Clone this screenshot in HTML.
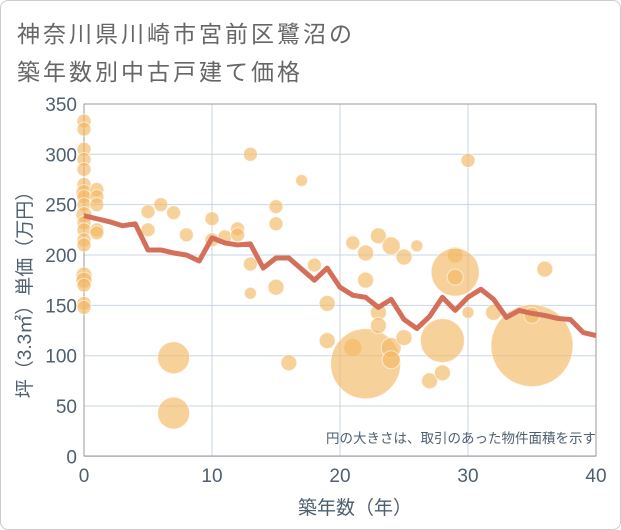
<!DOCTYPE html>
<html><head><meta charset="utf-8"><style>
body{margin:0;background:#fff;font-family:"Liberation Sans","Noto Sans CJK JP",sans-serif}
#wrap{position:relative;width:619px;height:528px;border:1px solid #ccc;border-radius:8px;overflow:hidden}
.t{position:absolute;left:16px;font-size:23px;color:#666;letter-spacing:3px}
</style></head><body>
<div id="wrap">
<div class="t" style="top:14px">神奈川県川崎市宮前区鷺沼の</div>
<div class="t" style="top:52px">築年数別中古戸建て価格</div>
<svg id="svg" width="621" height="530" style="position:absolute;left:-1px;top:-1px"></svg>
</div>
<script>
const years=[0,1,2,3,4,5,6,7,8,9,10,11,12,13,14,15,16,17,18,19,20,21,22,23,24,25,26,27,28,29,30,31,32,33,34,35,36,37,38,39,40];
const avgPrice=[239,236,233,229,231,205,205,202,200,194,217,212,210,211,187,197,197,186,175,187,168,160,158,148,156,136,127,139,158,145,158,166,156,138,145,142,140,137,136,123,120];
const bubbleX=[0,0,0,0,0,0,0,0,0,0,0,0,0,0,0,0,0,0,0,1,1,1,1,1,5,5,6,7,7,7,8,10,10,11,12,12,13,13,13,15,15,15,16,17,18,19,19,21,21,22,22,22,23,23,23,24,24,24,25,25,26,27,28,28,29,29,29,30,30,32,35,35,36];
const bubbleY=[333,325,305,295,285,270,262,258,250,240,232,225,215,210,180,175,170,152,148,265,258,250,225,222,243,225,250,242,98,43,220,236,215,218,226,220,300,191,162,248,231,168,93,274,190,152,115,212,108,202,175,92,219,143,130,209,108,96,198,118,209,75,83,115,200,183,178,294,143,143,110,140,186];
const bubbleR=[7,7,7,7,7,7,8,7,7,8,7,7,7,7,8,8,7,7,7,7,7,7,7,7,7,7,7,7,16,16,7,7,7,7,7,7,7,7,6,7,7,8,8,6,7,8,8,7,9,8,8,35,8,8,8,9,10,9,8,8,6,8,8,22,8,24,8,7,6,8,41,8,8];
const yTicks=[0,50,100,150,200,250,300,350];
const xTicks=[0,10,20,30,40];
const NS="http://www.w3.org/2000/svg";
const svg=document.getElementById('svg');
const X=v=>84+v*12.8, Y=v=>456.4-v*1.007;
const TC='#4e5f70';
function mk(t,a,p){const e=document.createElementNS(NS,t);for(const k in a)e.setAttribute(k,a[k]);(p||svg).appendChild(e);return e;}
yTicks.forEach(v=>{
 const l=mk('line',{x1:84,x2:596,y1:Y(v),y2:Y(v),stroke:'#c9d6e6','stroke-width':1});
 
 
 const t=mk('text',{x:77,y:Y(v)+7,'text-anchor':'end','font-size':19,fill:TC});
 t.textContent=v;
 
 
});
xTicks.forEach(v=>{
 const l=mk('line',{x1:X(v),x2:X(v),y1:104,y2:456,stroke:'#c9d6e6','stroke-width':1});
 
 
 const t=mk('text',{x:X(v),y:482,'text-anchor':'middle','font-size':19,fill:TC});
 t.textContent=v;
 
 
});
const fr=mk('rect',{x:84,y:104,width:512,height:352,fill:'none',stroke:'#999','stroke-width':1});


bubbleX.forEach((x,i)=>{
 const c=mk('circle',{cx:X(x),cy:Y(bubbleY[i]),r:bubbleR[i],fill:'rgba(242,185,100,0.65)',stroke:'rgba(255,255,255,0.6)','stroke-width':1});
 
 
});
const p=mk('polyline',{points:years.map((x,i)=>X(x)+','+Y(avgPrice[i])).join(' '),fill:'none',stroke:'#d4705a','stroke-width':5,'stroke-linejoin':'round'});


const n=mk('text',{x:596,y:443,'text-anchor':'end','font-size':13.5,fill:TC});
n.textContent='円の大きさは、取引のあった物件面積を示す';


const xt=mk('text',{x:355,y:514,'text-anchor':'middle','font-size':19,fill:TC});
xt.textContent='築年数（年）';


const yt=mk('text',{x:0,y:0,'text-anchor':'middle','font-size':19,fill:TC,transform:'translate(31,290) rotate(-90)'});
yt.textContent='坪（3.3㎡）単価（万円）';


</script>
</body></html>
